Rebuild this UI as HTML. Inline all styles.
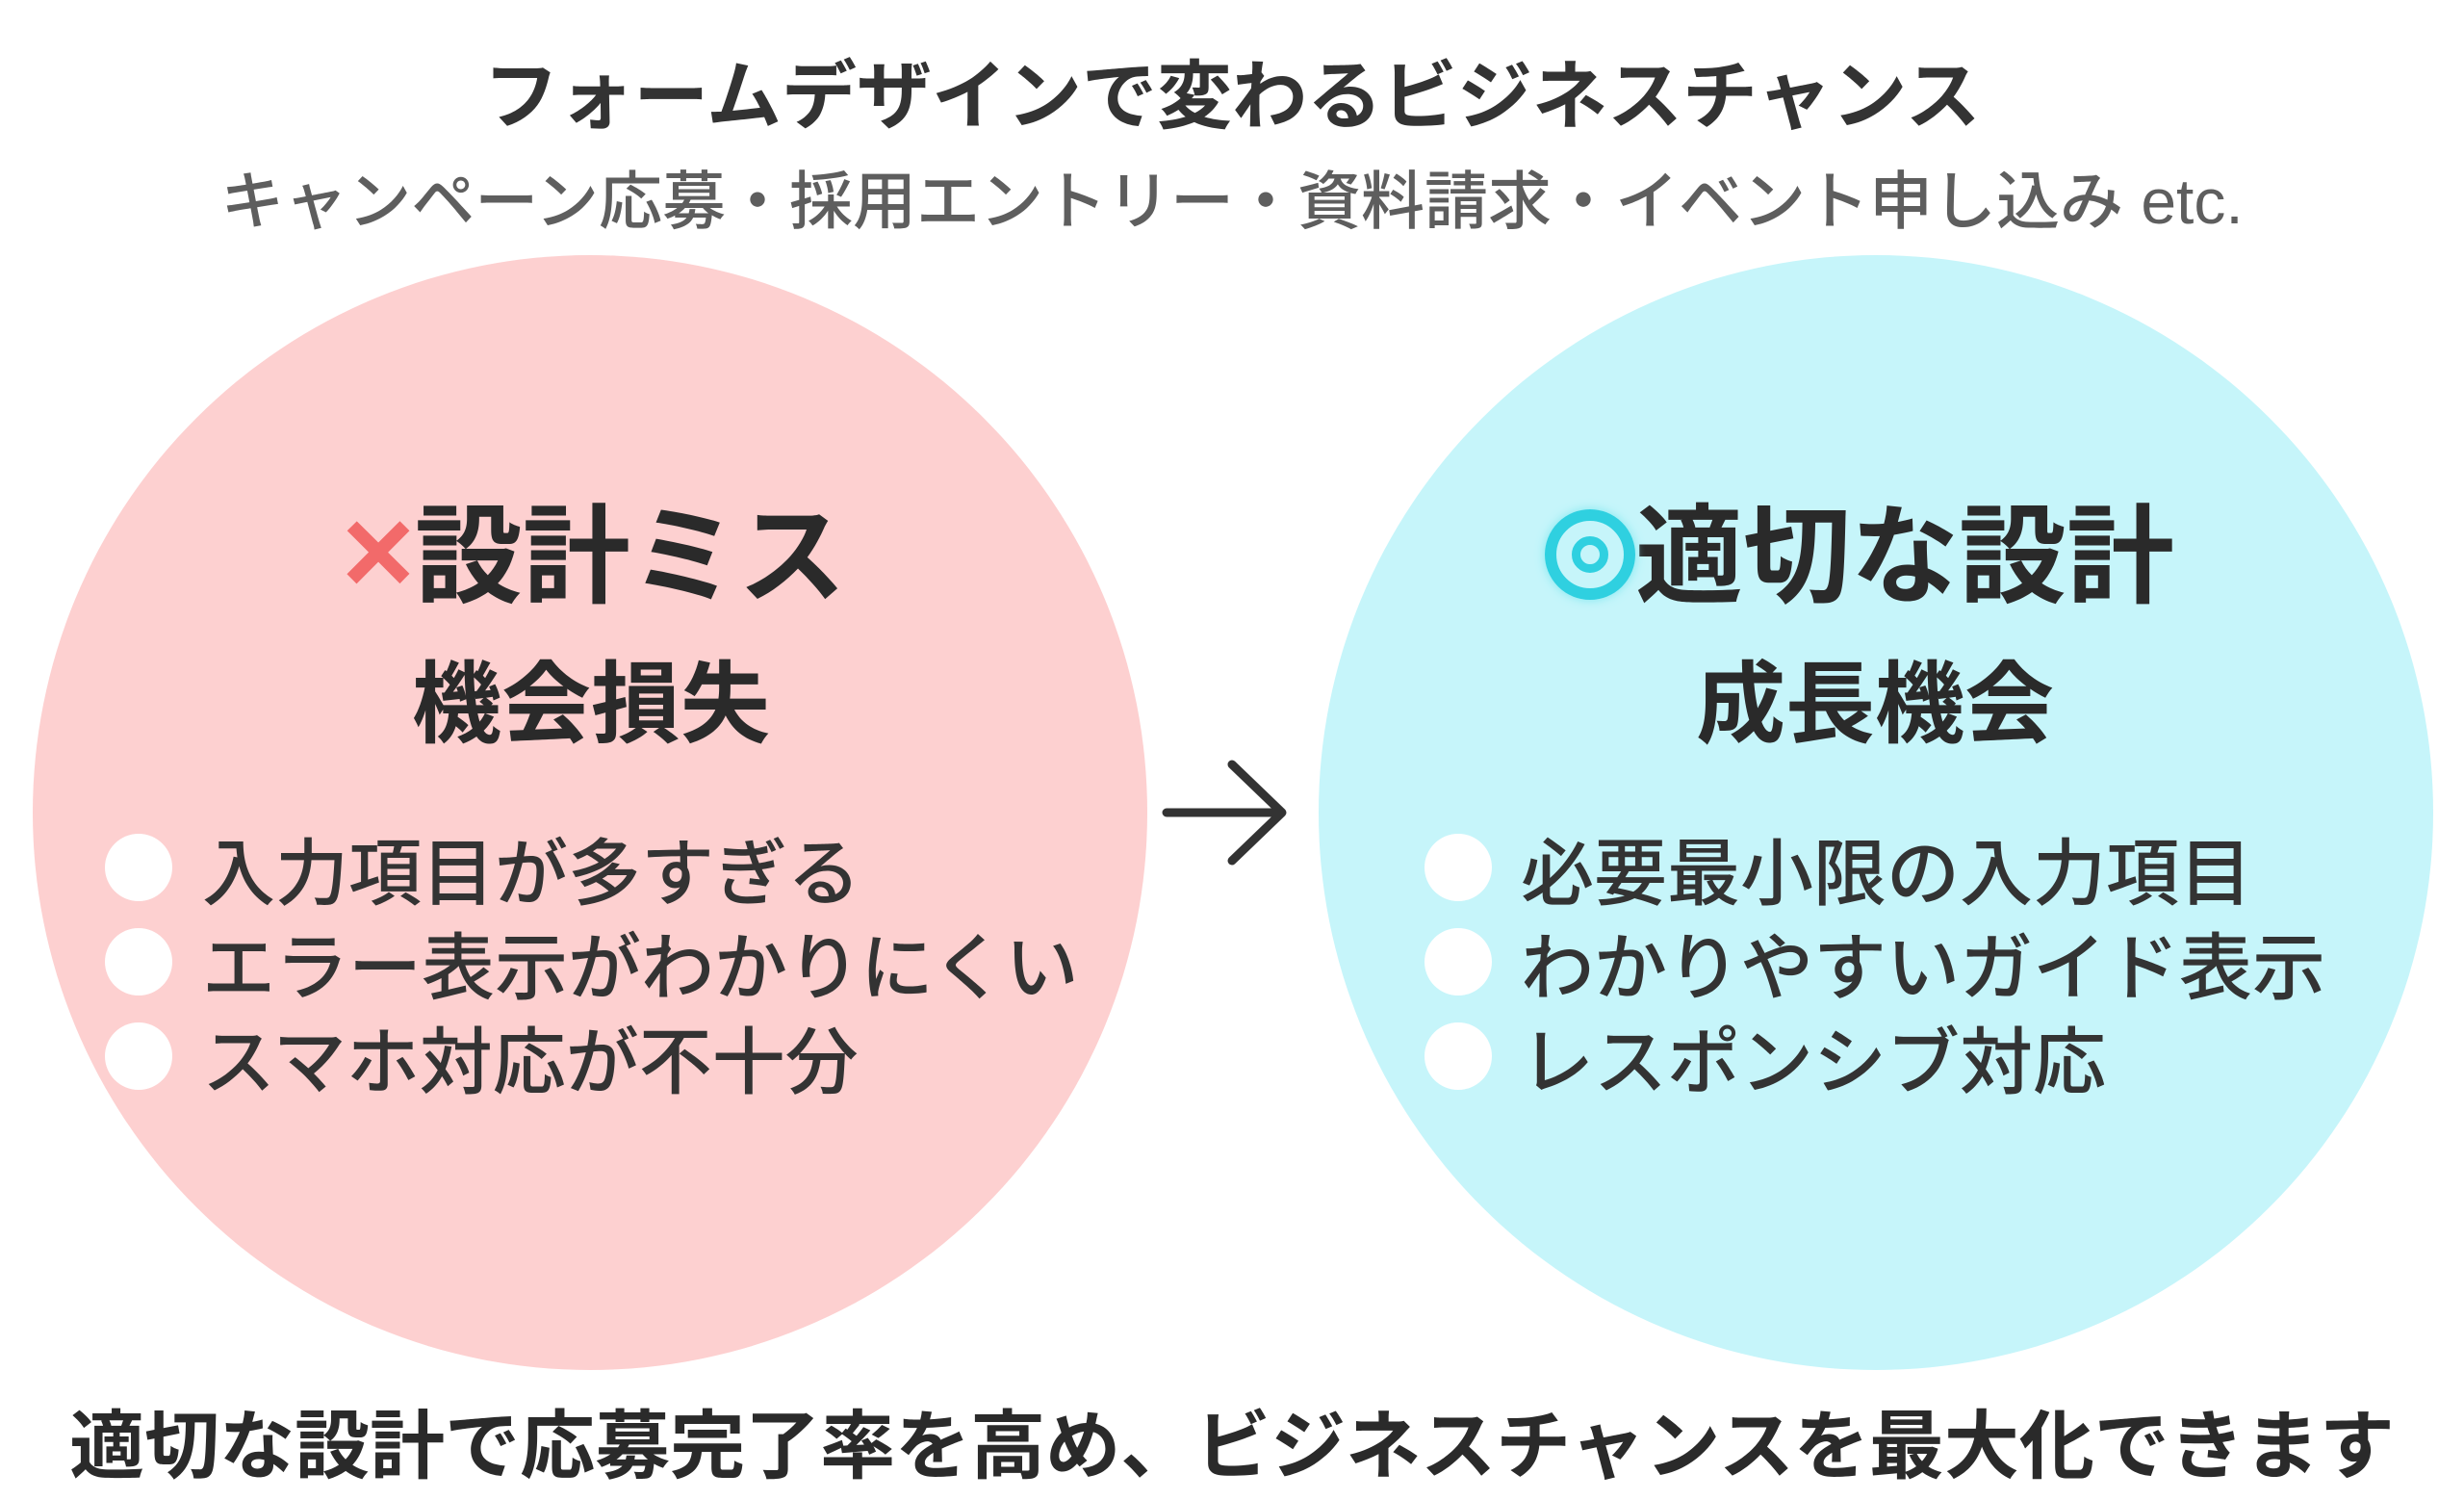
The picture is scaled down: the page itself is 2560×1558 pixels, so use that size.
<!DOCTYPE html>
<html><head><meta charset="utf-8"><style>
body{margin:0;width:2560px;height:1558px;background:#fff;position:relative;overflow:hidden;font-family:"Liberation Sans","Noto Sans CJK JP",sans-serif;color:#2a2a2a}
.a{position:absolute;white-space:nowrap}
.c{position:absolute;border-radius:50%}
.t{left:0;width:2560px;text-align:center}
.dot{position:absolute;width:70px;height:70px;border-radius:50%;background:#fff}
.b{font-size:76px;font-weight:500;color:#333}
</style></head><body>
<div class="a t" style="top:38px;font-size:78px;font-weight:700;color:#333">フォームデザインで変わるビジネスチャンス</div>
<div class="a t" style="top:156px;font-size:66px;font-weight:500;color:#5e5e5e">キャンペーン応募・採用エントリー・資料請求・イベント申し込み etc.</div>

<div class="c" style="left:34px;top:265px;width:1158px;height:1158px;background:#fdd0d0"></div>
<div class="c" style="left:1370px;top:265px;width:1158px;height:1158px;background:#c6f5fa"></div>

<div class="a" style="left:355px;top:488px;font-size:112px;font-weight:700;color:#2a2a2a"><span style="color:#f26a6a;font-size:130px">×</span>設計ミス</div>
<div class="a" style="left:428px;top:656px;font-size:93px;font-weight:700">機会損失</div>

<div class="a" style="left:1605px;top:488px;font-size:112px;font-weight:700;color:#2a2a2a">
<span style="display:inline-block;width:94px;height:94px;border-radius:50%;border:12px solid #2fd0e0;box-sizing:border-box;vertical-align:-6px;position:relative;box-shadow:0 0 10px #7fe8f0"><span style="position:absolute;left:16px;top:16px;width:38px;height:38px;border-radius:50%;border:9px solid #2fd0e0;box-sizing:border-box"></span></span>適切な設計</div>
<div class="a" style="left:1762px;top:656px;font-size:93px;font-weight:700">成長機会</div>

<div class="dot" style="left:109px;top:866px"></div>
<div class="dot" style="left:109px;top:964px"></div>
<div class="dot" style="left:109px;top:1062px"></div>
<div class="a b" style="left:210px;top:846px">入力項目が多すぎる</div>
<div class="a b" style="left:210px;top:944px">エラー表示がわかりにくい</div>
<div class="a b" style="left:210px;top:1042px">スマホ対応が不十分</div>

<div class="dot" style="left:1480px;top:866px"></div>
<div class="dot" style="left:1480px;top:964px"></div>
<div class="dot" style="left:1480px;top:1062px"></div>
<div class="a b" style="left:1580px;top:846px">必要最小限の入力項目</div>
<div class="a b" style="left:1580px;top:944px">わかりやすいガイド表示</div>
<div class="a b" style="left:1580px;top:1042px">レスポンシブ対応</div>

<svg class="a" style="left:1200px;top:780px" width="150" height="130"><path d="M12 64 H130 M80 14 L132 64 L80 114" fill="none" stroke="#333" stroke-width="9" stroke-linecap="round" stroke-linejoin="round"/></svg>

<div class="a t" style="top:1440px;font-size:78px;font-weight:700;color:#2a2a2a">適切な設計で応募完了率を高め、ビジネスチャンスを最大化できます</div>
</body></html>
